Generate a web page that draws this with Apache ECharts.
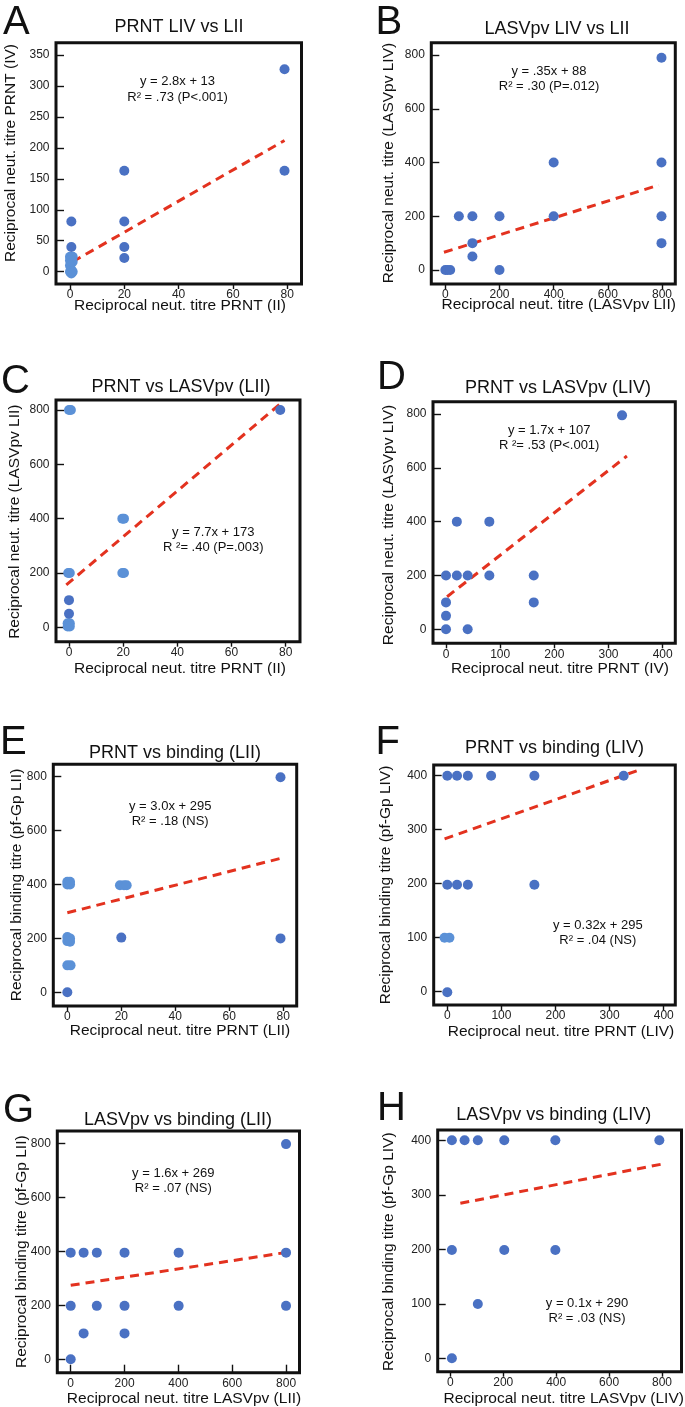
<!DOCTYPE html>
<html>
<head>
<meta charset="utf-8">
<script src="https://cdn.jsdelivr.net/npm/echarts@6/dist/echarts.min.js"></script>
<style>
html,body{margin:0;padding:0;background:#fff;}
#chart{width:685px;height:1407px;}
</style>
</head>
<body>
<div id="chart"></div>
<script>
// ---------------- tick labels ----------------
const ticksPrnt80 = [0, 20, 40, 60, 80];
const ticksPrnt350 = [0, 50, 100, 150, 200, 250, 300, 350];
const ticks800 = [0, 200, 400, 600, 800];
const ticks400 = [0, 100, 200, 300, 400];

// ---------------- data: [x, y] ----------------
// A: PRNT LIV vs LII
const ptsA = [[0.5, 81], [0.5, 40], [20, 163], [20, 81], [20, 40], [20, 22], [79, 327], [79, 163]];
const ptsALight = [[0, 24], [1, 24], [0, 18], [1, 16], [0, 10], [0.5, 3], [0, 0], [1, 0], [0.5, -3]];
const fitA = [[1, 16], [79, 212]];
// B: LASVpv LIV vs LII
const ptsB = [[0, 0], [8, 0], [18, 0], [50, 200], [100, 200], [100, 100], [100, 50], [200, 200], [200, 0],
  [400, 400], [400, 200], [798, 790], [798, 400], [798, 200], [798, 100]];
const ptsBLight = [];
const fitB = [[-5, 66], [788, 316]];
// C: PRNT vs LASVpv (LII)
const ptsC = [[0, 100], [0, 50], [78, 800]];
const ptsCLight = [[0, 800], [0.7, 800], [-0.3, 200], [0.3, 200], [-0.5, 15], [0.3, 15], [-0.5, 3], [0.3, 3],
  [19.7, 400], [20.3, 400], [19.7, 200], [20.3, 200]];
const fitC = [[-1, 156], [79, 831]];
// D: PRNT vs LASVpv (LIV)
const ptsD = [[0, 200], [0, 100], [0, 50], [0, 0], [20, 400], [20, 200], [40, 200], [40, 0], [80, 400], [80, 200],
  [162, 200], [162, 100], [325, 795]];
const ptsDLight = [];
const fitD = [[2, 121], [334, 644]];
// E: PRNT vs binding (LII)
const ptsE = [[0, 0], [20, 203], [79, 798], [79, 200]];
const ptsELight = [[0, 410], [1, 410], [0, 400], [1, 400], [0, 205], [1, 200], [0, 190], [1, 188], [0, 100], [1.2, 100],
  [19.5, 397], [21, 397], [22, 397]];
const fitE = [[0, 295], [79, 497]];
// F: PRNT vs binding (LIV)
const ptsF = [[0, 400], [18, 400], [38, 400], [81, 400], [161, 400], [326, 400], [0, 198], [18, 198], [38, 198],
  [161, 198], [0, -1]];
const ptsFLight = [[-5, 100], [4, 100]];
const fitF = [[-5, 283], [350, 409]];
// G: LASVpv vs binding (LII)
const ptsG = [[0, 395], [48, 395], [97, 395], [200, 395], [401, 395], [800, 395], [0, 198], [97, 198], [200, 198],
  [401, 198], [800, 198], [48, 96], [200, 96], [0, 0], [800, 797]];
const ptsGLight = [];
const fitG = [[0, 274], [795, 395]];
// H: LASVpv vs binding (LIV)
const ptsH = [[6, 401], [54, 401], [104, 401], [204, 401], [397, 401], [790, 401], [6, 199], [204, 199], [397, 199],
  [104, 100], [6, 0]];
const ptsHLight = [];
const fitH = [[38, 285], [810, 358]];

// ---------------- texts ----------------
const letters = ['A', 'B', 'C', 'D', 'E', 'F', 'G', 'H'];
const titles = ['PRNT LIV vs LII', 'LASVpv LIV vs LII', 'PRNT vs LASVpv (LII)', 'PRNT vs LASVpv (LIV)',
  'PRNT vs binding (LII)', 'PRNT vs binding (LIV)', 'LASVpv vs binding (LII)', 'LASVpv vs binding (LIV)'];
const eqLines = ['y = 2.8x + 13', 'y = .35x + 88', 'y = 7.7x + 173', 'y = 1.7x + 107',
  'y = 3.0x + 295', 'y = 0.32x + 295', 'y = 1.6x + 269', 'y = 0.1x + 290'];
const r2Lines = ['R² = .73 (P<.001)', 'R² = .30 (P=.012)', 'R ²= .40 (P=.003)', 'R ²= .53 (P<.001)',
  'R² = .18 (NS)', 'R² = .04 (NS)', 'R² = .07 (NS)', 'R² = .03 (NS)'];
const xNames = ['Reciprocal neut. titre PRNT (II)', 'Reciprocal neut. titre (LASVpv LII)',
  'Reciprocal neut. titre PRNT (II)', 'Reciprocal neut. titre PRNT (IV)',
  'Reciprocal neut. titre PRNT (LII)', 'Reciprocal neut. titre PRNT (LIV)',
  'Reciprocal neut. titre LASVpv (LII)', 'Reciprocal neut. titre LASVpv (LIV)'];
const yNames = ['Reciprocal neut. titre PRNT (IV)', 'Reciprocal neut. titre (LASVpv LIV)',
  'Reciprocal neut. titre (LASVpv LII)', 'Reciprocal neut. titre (LASVpv LIV)',
  'Reciprocal binding titre (pf-Gp LII)', 'Reciprocal binding titre (pf-Gp LIV)',
  'Reciprocal binding titre (pf-Gp LII)', 'Reciprocal binding titre (pf-Gp LIV)'];

// ---------------- panel data bundle ----------------
const panelData = [
  { pts: ptsA, light: ptsALight, fit: fitA, xTicks: ticksPrnt80, yTicks: ticksPrnt350 },
  { pts: ptsB, light: ptsBLight, fit: fitB, xTicks: ticks800, yTicks: ticks800 },
  { pts: ptsC, light: ptsCLight, fit: fitC, xTicks: ticksPrnt80, yTicks: ticks800 },
  { pts: ptsD, light: ptsDLight, fit: fitD, xTicks: ticks400, yTicks: ticks800 },
  { pts: ptsE, light: ptsELight, fit: fitE, xTicks: ticksPrnt80, yTicks: ticks800 },
  { pts: ptsF, light: ptsFLight, fit: fitF, xTicks: ticks400, yTicks: ticks400 },
  { pts: ptsG, light: ptsGLight, fit: fitG, xTicks: ticks800, yTicks: ticks800 },
  { pts: ptsH, light: ptsHLight, fit: fitH, xTicks: ticks800, yTicks: ticks400 }
];

// ---------------- layout (pixels) ----------------
// box: [left, top, right, bottom]; xr/yr: axis extent
const layout = [
  { box: [56, 42.7, 301.5, 284], xr: [-5.15, 85.25], yr: [-19.9, 369.9], letter: [3, 22.5], title: [179, 27.5], eq: [177.5, 81.5], xn: [180, 306], yn: [10.5, 153], xIn: false },
  { box: [431.3, 42.7, 675.3, 284], xr: [-51.7, 849], yr: [-52, 845.8], letter: [375.5, 22.5], title: [557, 29], eq: [549, 71], xn: [558.7, 305], yn: [389, 163], xIn: false },
  { box: [56, 400, 300, 641.7], xr: [-4.8, 85.3], yr: [-53, 836.8], letter: [1, 381.7], title: [181, 386.7], eq: [213.3, 532], xn: [180, 669], yn: [15, 521.7], xIn: false },
  { box: [433, 401.7, 675.3, 643.3], xr: [-24, 423.3], yr: [-52, 845.7], letter: [377, 378], title: [558, 388], eq: [549.2, 430], xn: [560, 669], yn: [388.7, 525], xIn: false },
  { box: [53.3, 764.3, 296.7, 1006], xr: [-5.2, 85], yr: [-50.8, 846], letter: [0, 743], title: [175, 753], eq: [170.2, 806], xn: [180, 1031], yn: [16.7, 885], xIn: false },
  { box: [433.7, 765, 675.3, 1005], xr: [-25.1, 421.4], yr: [-24.6, 419.8], letter: [375.5, 743], title: [554.5, 748], eq: [597.8, 925], xn: [561, 1032], yn: [385.3, 885], xIn: false },
  { box: [57.3, 1131, 299.5, 1372.7], xr: [-49.8, 850], yr: [-49.6, 845.6], letter: [3, 1111], title: [178, 1120], eq: [173.3, 1173.3], xn: [184, 1399], yn: [21.7, 1251.7], xIn: true },
  { box: [437.7, 1130, 681.5, 1371.7], xr: [-47.6, 873.7], yr: [-24.6, 419.7], letter: [377, 1109], title: [553.7, 1115], eq: [587, 1303.3], xn: [563.7, 1399], yn: [388.7, 1251.7], xIn: false }
];

const FONT = "'Liberation Sans', Arial, Helvetica, sans-serif";
const DARK = '#4a71c3';
const LIGHT = '#5b91d7';
const RED = '#e3321f';

const grids = [], xAxes = [], yAxes = [], series = [], graphics = [];

function txt(x, y, text, size, align, rot) {
  const el = {
    type: 'text', x: x, y: y, silent: true,
    style: { text: text, fontSize: size, fontFamily: FONT, fill: '#111', align: align || 'center', verticalAlign: 'middle' }
  };
  if (rot) el.rotation = rot;
  return el;
}

panelData.forEach((p, i) => {
  const L = layout[i];
  const [l, t, r, b] = L.box;
  grids.push({ left: l, top: t, width: r - l, height: b - t, show: true, borderColor: '#111', borderWidth: 3, containLabel: false });
  xAxes.push({
    gridIndex: i, type: 'value', min: L.xr[0], max: L.xr[1], position: 'bottom',
    axisLine: { show: false, onZero: false }, splitLine: { show: false },
    axisTick: { show: true, inside: L.xIn, length: L.xIn ? 8 : 5, customValues: p.xTicks, lineStyle: { color: '#111', width: 1.4 } },
    axisLabel: { customValues: p.xTicks, fontSize: 12, color: '#222', fontFamily: FONT, margin: L.xIn ? 5 : 5 }
  });
  yAxes.push({
    gridIndex: i, type: 'value', min: L.yr[0], max: L.yr[1], position: 'left',
    axisLine: { show: false, onZero: false }, splitLine: { show: false },
    axisTick: { show: true, inside: true, length: 8, customValues: p.yTicks, lineStyle: { color: '#111', width: 1.4 } },
    axisLabel: { customValues: p.yTicks, fontSize: 12, color: '#222', fontFamily: FONT, margin: 6.5 }
  });
  series.push({
    type: 'line', xAxisIndex: i, yAxisIndex: i, data: p.fit, showSymbol: false, symbol: 'none',
    lineStyle: { color: RED, width: 3, type: [9, 6] }, z: 2, silent: true
  });
  series.push({
    type: 'scatter', xAxisIndex: i, yAxisIndex: i, data: p.light, symbolSize: 10,
    itemStyle: { color: LIGHT, opacity: 1 }, z: 3, silent: true
  });
  series.push({
    type: 'scatter', xAxisIndex: i, yAxisIndex: i, data: p.pts, symbolSize: 10,
    itemStyle: { color: DARK, opacity: 1 }, z: 4, silent: true
  });

  graphics.push(txt(L.letter[0], L.letter[1], letters[i], 40, 'left'));
  graphics.push(txt(L.title[0], L.title[1], titles[i], 18));
  graphics.push(txt(L.eq[0], L.eq[1], eqLines[i], 13));
  graphics.push(txt(L.eq[0], L.eq[1] + 15.5, r2Lines[i], 13));
  graphics.push(txt(L.xn[0], L.xn[1], xNames[i], 15.5));
  graphics.push(txt(L.yn[0], L.yn[1], yNames[i], 15.5, 'center', Math.PI / 2));
});

const chart = echarts.init(document.getElementById('chart'), null, { renderer: 'canvas' });
chart.setOption({
  animation: false,
  backgroundColor: '#fff',
  grid: grids,
  xAxis: xAxes,
  yAxis: yAxes,
  series: series,
  graphic: graphics
});
</script>
</body>
</html>
